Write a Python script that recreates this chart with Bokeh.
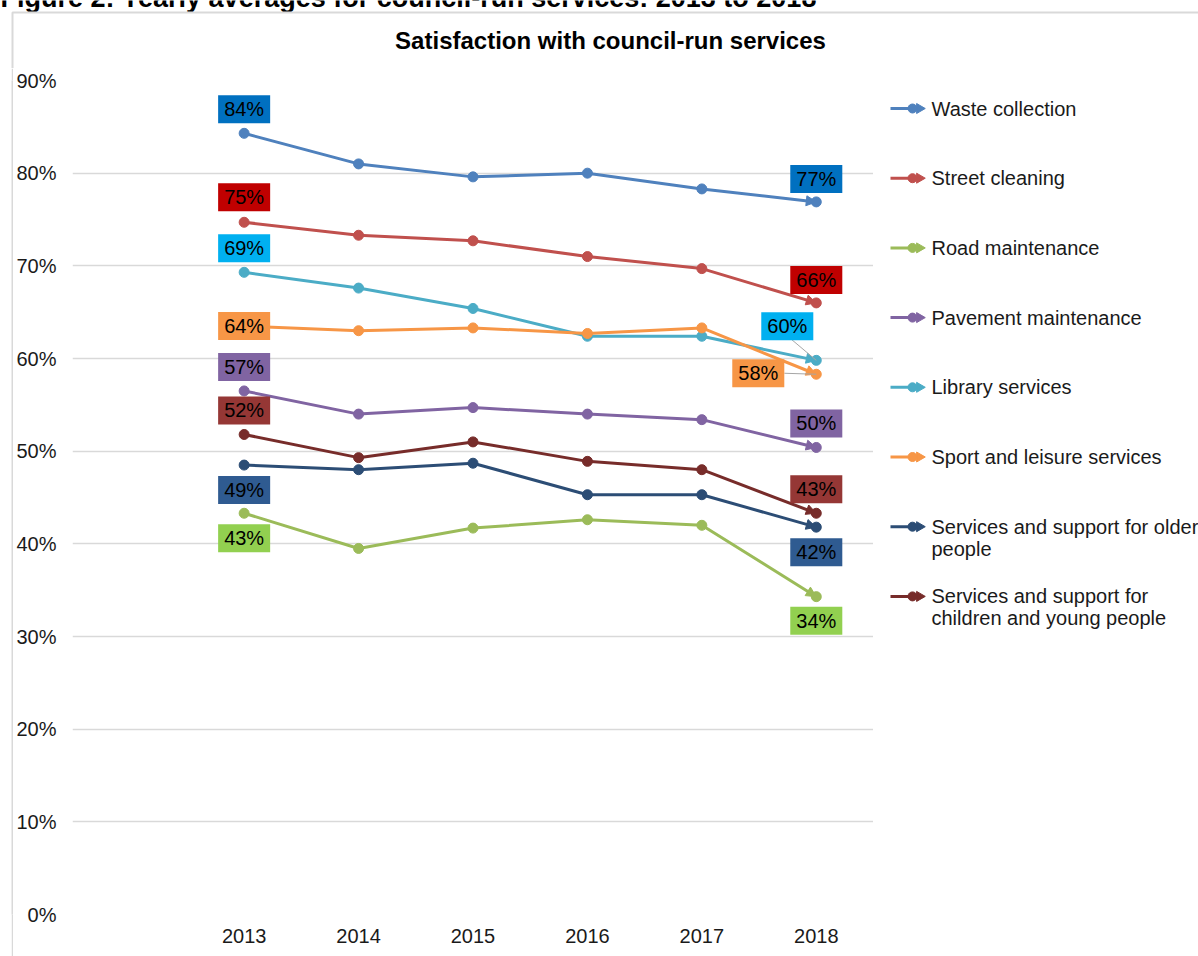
import math
from bokeh.plotting import figure
from bokeh.layouts import column, row
from bokeh.models import (Range1d, FixedTicker, PrintfTickFormatter, Label, Arrow,
                          NormalHead, Spacer)
from bokeh.core.properties import value
from bokeh.embed import file_html
from bokeh.resources import INLINE

# ---------------- data ----------------
years = [2013, 2014, 2015, 2016, 2017, 2018]
waste = [84.3, 81.0, 79.6, 80.0, 78.3, 76.9]
street = [74.7, 73.3, 72.7, 71.0, 69.7, 66.0]
road = [43.3, 39.5, 41.7, 42.6, 42.0, 34.3]
pavement = [56.5, 54.0, 54.7, 54.0, 53.4, 50.4]
library = [69.3, 67.6, 65.4, 62.4, 62.4, 59.8]
sport = [63.5, 63.0, 63.3, 62.7, 63.3, 58.3]
older = [48.5, 48.0, 48.7, 45.3, 45.3, 41.8]
children = [51.8, 49.3, 51.0, 48.9, 48.0, 43.3]

series_names = ["Waste collection", "Street cleaning", "Road maintenance",
                "Pavement maintenance", "Library services", "Sport and leisure services",
                "Services and support for older", "Services and support for"]
series_names_2 = ["", "", "", "", "", "", "people", "children and young people"]
series_values = [waste, street, road, pavement, library, sport, older, children]
start_labels = ["84%", "75%", "43%", "57%", "69%", "64%", "49%", "52%"]
end_labels = ["77%", "66%", "34%", "50%", "60%", "58%", "42%", "43%"]
y_ticks = [0, 10, 20, 30, 40, 50, 60, 70, 80, 90]
chart_title = "Satisfaction with council-run services"
page_header = "Figure 2: Yearly averages for council-run services: 2013 to 2018"

# ---------------- styles ----------------
line_colors = ["#4F81BD", "#C0504D", "#9BBB59", "#8064A2", "#4BACC6", "#F79646",
               "#2C4D75", "#772C2A"]
box_colors = ["#0070C0", "#C00000", "#92D050", "#8064A2", "#00B0F0", "#F79646",
              "#2F5B91", "#953735"]
start_off = [(0, 24), (0, 25), (0, -25), (0, 24), (0, 24), (0, 0), (0, -25), (0, 24)]
end_off = [(0, 23), (0, 23), (0, -24), (0, 24), (-29, 34), (-58, 1), (0, -25), (0, 24)]
leader = {4: (-25, 21), 5: (-32, 1)}

FONT = "Liberation Sans"
TXT = "#1a1a1a"
BORDER = "#D9D9D9"
W, H = 1198, 956
TOP_H = 68            # height of the strip holding header/title
GAP, BW = 11, 2       # white gap + grey left border line
BL = GAP + BW
LEG_W = W - 873       # width of the legend area
FL, FR, FT, FB = 69, 873, 80, 914   # plot frame in page pixels
XR = (2011.5, 2018.5)
YR = (0, 90)
px_x = (FR - FL) / (XR[1] - XR[0])
px_y = (FB - FT) / (YR[1] - YR[0])


def blank(width, height, xr, yr, **kw):
    f = figure(width=width, height=height, x_range=Range1d(*xr), y_range=Range1d(*yr),
               output_backend="svg", toolbar_location=None, min_border=0,
               x_axis_location=None, y_axis_location=None, **kw)
    f.grid.visible = False
    f.outline_line_color = None
    return f


# ---------------- top strip: header (cut off) + title + top border ----------------
top = blank(W, TOP_H, (0, W), (0, TOP_H))
top.text(x=[0], y=[TOP_H + 3], text=[page_header], text_font=value(FONT),
         text_font_size="27px", text_font_style="bold", text_color="#000000",
         text_baseline="alphabetic", text_align="left")
top.text(x=[610], y=[TOP_H - 40], text=[chart_title], text_font=value(FONT),
         text_font_size="24px", text_font_style="bold", text_color="#000000",
         text_baseline="middle", text_align="center")
top.line(x=[12, 12, W], y=[0, TOP_H - 12, TOP_H - 12], line_color=BORDER, line_width=2)

# ---------------- left border strip (a grey 2px wide canvas) ----------------
lb = blank(BW, H - TOP_H, (0, 1), (0, 1), border_fill_color=BORDER,
           background_fill_color=BORDER)

# ---------------- main plot ----------------
p = figure(width=FR - BL, height=H - TOP_H, x_range=Range1d(*XR), y_range=Range1d(*YR),
           output_backend="svg", toolbar_location=None,
           min_border_left=FL - BL, min_border_right=0, min_border_top=FT - TOP_H,
           min_border_bottom=H - FB)
p.outline_line_color = None
p.xgrid.grid_line_color = None
p.ygrid.grid_line_color = BORDER
p.ygrid.grid_line_width = 1.5
p.xaxis.ticker = FixedTicker(ticks=years)
p.yaxis.ticker = FixedTicker(ticks=y_ticks)
p.yaxis.formatter = PrintfTickFormatter(format="%d%%")
for ax in (p.xaxis, p.yaxis):
    ax.axis_line_color = None
    ax.major_tick_line_color = None
    ax.minor_tick_line_color = None
    ax.major_tick_out = 0
    ax.minor_tick_out = 0
    ax.major_label_text_font = FONT
    ax.major_label_text_font_size = "20px"
    ax.major_label_text_color = TXT
p.xaxis.major_label_standoff = 14
p.yaxis.major_label_standoff = 16

for i, vals in enumerate(series_values):
    c = line_colors[i]
    p.line(years, vals, line_color=c, line_width=3)
    arr = Arrow(x_start=years[-2], y_start=vals[-2], x_end=years[-1], y_end=vals[-1],
                line_color=None,
                end=NormalHead(size=10, fill_color=c, line_color=c, line_width=1))
    arr.level = "glyph"
    p.renderers.append(arr)
    p.scatter(years, vals, size=10, marker="circle", fill_color=c, line_color=c)

for i, (dx, dy) in leader.items():
    vals = series_values[i]
    p.segment(x0=[years[-1] + dx / px_x], y0=[vals[-1] + dy / px_y],
              x1=[years[-1]], y1=[vals[-1]], line_color="#A6A6A6", line_width=1)

for i, vals in enumerate(series_values):
    for (xv, yv, txt, off) in ((years[0], vals[0], start_labels[i], start_off[i]),
                               (years[-1], vals[-1], end_labels[i], end_off[i])):
        p.add_layout(Label(x=xv, y=yv, text=txt, x_offset=off[0], y_offset=off[1],
                           text_align="center", text_baseline="middle",
                           text_font=FONT, text_font_size="20px", text_color="#000000",
                           background_fill_color=box_colors[i], padding=(6, 3)))

# ---------------- legend area (page pixel coords, y measured up from page bottom) ---
# the frame of this figure is aligned with the main plot frame (page y 80..914)
leg = blank(LEG_W, H - TOP_H, (FR, W), (H - FB, H - FT))
n = len(series_names)
row_y = [H - (108 + k * 69.7) for k in range(n)]
leg.segment(x0=[890] * n, y0=row_y, x1=[917] * n, y1=row_y, line_color=line_colors,
            line_width=3)
leg.scatter(x=[912] * n, y=row_y, size=9, marker="circle", fill_color=line_colors,
            line_color=line_colors)
leg.scatter(x=[919] * n, y=row_y, size=10, marker="triangle", angle=-math.pi / 2,
            fill_color=line_colors, line_color=line_colors)
leg.text(x=[931] * n, y=row_y, text=series_names, text_font=value(FONT),
         text_font_size="20px", text_color=TXT, text_baseline="middle")
leg.text(x=[931] * n, y=[yy - 22 for yy in row_y], text=series_names_2,
         text_font=value(FONT), text_font_size="20px", text_color=TXT,
         text_baseline="middle")

layout = column(top, row(Spacer(width=GAP, height=H - TOP_H), lb, p, leg, spacing=0),
                spacing=0)
open("out.html", "w").write(file_html(layout, INLINE))
